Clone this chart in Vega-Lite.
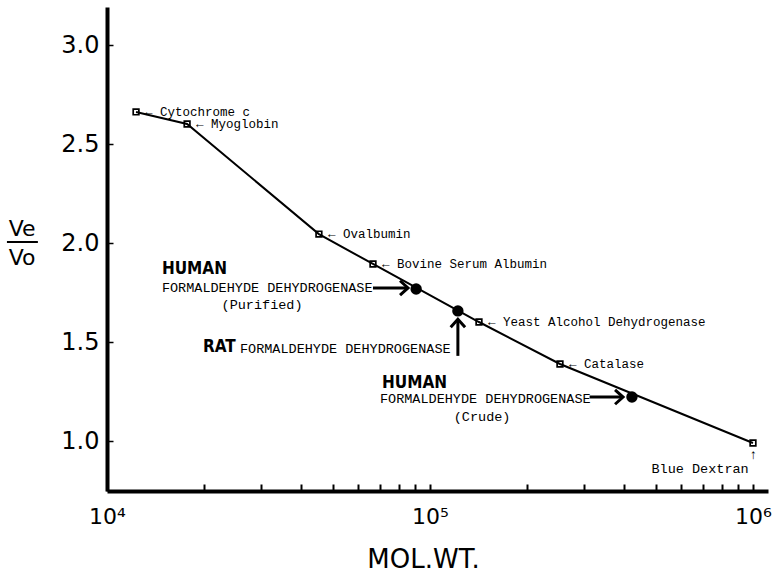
{
  "$schema": "https://vega.github.io/schema/vega-lite/v6.json",
  "width": 661,
  "height": 484,
  "autosize": "none",
  "padding": {"left": 107, "top": 7, "right": 13, "bottom": 81},
  "background": "white",
  "config": {"view": {"stroke": null}},
  "datasets": {
    "standards": [
      {"name": "Cytochrome c", "label": "← Cytochrome c", "mw": 12300, "v": 2.662},
      {"name": "Myoglobin", "label": "← Myoglobin", "mw": 17700, "v": 2.601},
      {"name": "Ovalbumin", "label": "← Ovalbumin", "mw": 45300, "v": 2.045},
      {"name": "Bovine Serum Albumin", "label": "← Bovine Serum Albumin", "mw": 66600, "v": 1.894},
      {"name": "Yeast Alcohol Dehydrogenase", "label": "← Yeast Alcohol Dehydrogenase", "mw": 141800, "v": 1.601},
      {"name": "Catalase", "label": "← Catalase", "mw": 252600, "v": 1.389},
      {"name": "Blue Dextran", "label": "", "mw": 1000000, "v": 0.99}
    ],
    "samples": [
      {"enzyme": "Human formaldehyde dehydrogenase (purified)", "mw": 90600, "v": 1.768},
      {"enzyme": "Rat formaldehyde dehydrogenase", "mw": 122000, "v": 1.657},
      {"enzyme": "Human formaldehyde dehydrogenase (crude)", "mw": 422000, "v": 1.222}
    ],
    "arrows": [
      {"dir": "right", "mw": 66600, "mw2": 85500, "v": 1.773, "v2": 1.773},
      {"dir": "up", "mw": 122000, "mw2": 122000, "v": 1.43, "v2": 1.615},
      {"dir": "right", "mw": 312000, "mw2": 396000, "v": 1.222, "v2": 1.222}
    ],
    "annotBold": [
      {"t": "HUMAN", "mw": 14790, "v": 1.869},
      {"t": "RAT", "mw": 19820, "v": 1.475},
      {"t": "HUMAN", "mw": 71000, "v": 1.293}
    ],
    "annotLeft": [
      {"t": "FORMALDEHYDE DEHYDROGENASE", "mw": 14790, "v": 1.773},
      {"t": "FORMALDEHYDE DEHYDROGENASE", "mw": 25800, "v": 1.465},
      {"t": "FORMALDEHYDE DEHYDROGENASE", "mw": 70000, "v": 1.212}
    ],
    "annotCenter": [
      {"t": "(Purified)", "mw": 30200, "v": 1.687},
      {"t": "(Crude)", "mw": 145000, "v": 1.121},
      {"t": "Blue Dextran", "mw": 686000, "v": 0.859},
      {"t": "↑", "mw": 1000000, "v": 0.929}
    ],
    "yTitle": [
      {"t": "Ve", "mw": 5460, "v": 2.071},
      {"t": "Vo", "mw": 5460, "v": 1.924}
    ],
    "yTitleBar": [
      {"mw": 4900, "mw2": 6110, "v": 2.005}
    ]
  },
  "layer": [
    {
      "data": {"name": "standards"},
      "mark": {"type": "line", "color": "black", "strokeWidth": 2},
      "encoding": {
        "x": {
          "field": "mw",
          "type": "quantitative",
          "scale": {"type": "log", "domain": [10000, 1113000], "nice": false},
          "axis": {
            "title": "MOL.WT.",
            "values": [10000, 20000, 30000, 40000, 50000, 60000, 70000, 80000, 90000, 100000, 200000, 300000, 400000, 500000, 600000, 700000, 800000, 900000, 1000000],
            "labelExpr": "datum.value == 10000 ? '10⁴' : datum.value == 100000 ? '10⁵' : datum.value == 1000000 ? '10⁶' : ''",
            "labelFont": "DejaVu Sans",
            "labelFontSize": 22,
            "labelColor": "black",
            "labelPadding": 22,
            "labelFlush": false,
            "labelOverlap": false,
            "grid": false,
            "domainColor": "black",
            "domainWidth": 4,
            "tickColor": "black",
            "tickWidth": 2,
            "tickSize": -7,
            "titleFont": "DejaVu Sans",
            "titleFontSize": 26,
            "titleFontWeight": "normal",
            "titleColor": "black",
            "titleX": 316,
            "titleY": 76,
            "titleBaseline": "alphabetic"
          }
        },
        "y": {
          "field": "v",
          "type": "quantitative",
          "scale": {"domain": [0.7475, 3.192], "nice": false, "zero": false},
          "axis": {
            "title": null,
            "values": [1, 1.5, 2, 2.5, 3],
            "format": ".1f",
            "labelFont": "DejaVu Sans",
            "labelFontSize": 24,
            "labelColor": "black",
            "labelPadding": 14,
            "grid": false,
            "domainColor": "black",
            "domainWidth": 4,
            "tickColor": "black",
            "tickWidth": 1.5,
            "tickSize": -6
          }
        }
      }
    },
    {
      "data": {"name": "standards"},
      "mark": {"type": "point", "shape": "square", "size": 32, "filled": false, "color": "black", "strokeWidth": 1.7, "opacity": 1},
      "encoding": {
        "x": {"field": "mw", "type": "quantitative"},
        "y": {"field": "v", "type": "quantitative"}
      }
    },
    {
      "data": {"name": "standards"},
      "mark": {"type": "text", "align": "left", "baseline": "middle", "dx": 9, "font": "Liberation Mono", "fontSize": 12.5, "color": "black"},
      "encoding": {
        "x": {"field": "mw", "type": "quantitative"},
        "y": {"field": "v", "type": "quantitative"},
        "text": {"field": "label"}
      }
    },
    {
      "data": {"name": "samples"},
      "mark": {"type": "point", "shape": "circle", "size": 130, "filled": true, "color": "black", "opacity": 1},
      "encoding": {
        "x": {"field": "mw", "type": "quantitative"},
        "y": {"field": "v", "type": "quantitative"}
      }
    },
    {
      "data": {"name": "arrows"},
      "mark": {"type": "rule", "color": "black", "strokeWidth": 3},
      "encoding": {
        "x": {"field": "mw", "type": "quantitative"},
        "x2": {"field": "mw2"},
        "y": {"field": "v", "type": "quantitative"},
        "y2": {"field": "v2"}
      }
    },
    {
      "data": {"name": "arrows"},
      "mark": {"type": "point", "size": 256, "filled": false, "color": "black", "strokeWidth": 3, "opacity": 1, "strokeJoin": "miter"},
      "encoding": {
        "x": {"field": "mw2", "type": "quantitative"},
        "y": {"field": "v2", "type": "quantitative"},
        "shape": {
          "field": "dir",
          "type": "nominal",
          "scale": {"domain": ["right", "up"], "range": ["M -1 -0.9 L 0 0 L -1 0.9", "M -0.9 1 L 0 0 L 0.9 1"]},
          "legend": null
        }
      }
    },
    {
      "data": {"name": "annotBold"},
      "mark": {"type": "text", "align": "left", "baseline": "middle", "font": "DejaVu Sans Condensed", "fontWeight": "bold", "fontSize": 17, "color": "black"},
      "encoding": {
        "x": {"field": "mw", "type": "quantitative"},
        "y": {"field": "v", "type": "quantitative"},
        "text": {"field": "t"}
      }
    },
    {
      "data": {"name": "annotLeft"},
      "mark": {"type": "text", "align": "left", "baseline": "middle", "font": "Liberation Mono", "fontSize": 13.5, "color": "black"},
      "encoding": {
        "x": {"field": "mw", "type": "quantitative"},
        "y": {"field": "v", "type": "quantitative"},
        "text": {"field": "t"}
      }
    },
    {
      "data": {"name": "annotCenter"},
      "mark": {"type": "text", "align": "center", "baseline": "middle", "font": "Liberation Mono", "fontSize": 13.5, "color": "black"},
      "encoding": {
        "x": {"field": "mw", "type": "quantitative"},
        "y": {"field": "v", "type": "quantitative"},
        "text": {"field": "t"}
      }
    },
    {
      "data": {"name": "yTitle"},
      "mark": {"type": "text", "align": "center", "baseline": "middle", "font": "DejaVu Sans", "fontSize": 22, "color": "black"},
      "encoding": {
        "x": {"field": "mw", "type": "quantitative"},
        "y": {"field": "v", "type": "quantitative"},
        "text": {"field": "t"}
      }
    },
    {
      "data": {"name": "yTitleBar"},
      "mark": {"type": "rule", "color": "black", "strokeWidth": 2},
      "encoding": {
        "x": {"field": "mw", "type": "quantitative"},
        "x2": {"field": "mw2"},
        "y": {"field": "v", "type": "quantitative"}
      }
    }
  ]
}
